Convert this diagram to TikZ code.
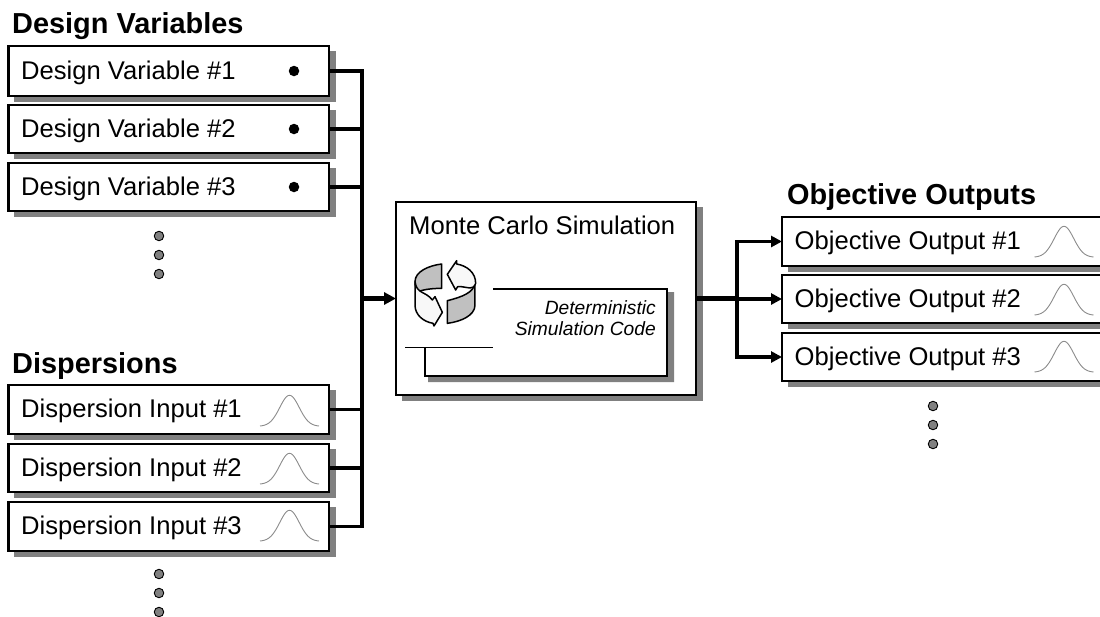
\documentclass[tikz,border=0pt]{standalone}
\usepackage{fontspec}
\setmainfont{Liberation Sans}
\usetikzlibrary{arrows.meta,shadows}
\definecolor{dropgray}{HTML}{808080}
\definecolor{dotgray}{HTML}{808080}
\definecolor{bandgray}{HTML}{C0C0C0}
\definecolor{bandwhite}{HTML}{F8F8F8}
\tikzset{
  shaded box/.style={draw=black,fill=white,line width=2.6pt,rectangle,anchor=north west,inner sep=0pt,outer sep=0pt,
    copy shadow={shadow xshift=6pt,shadow yshift=-5.5pt,fill=dropgray,draw=dropgray,line width=0pt}},
  item/.style={anchor=base west,inner sep=0pt,font=\fontsize{25.6}{28}\selectfont,text=black},
  heading/.style={anchor=base west,inner sep=0pt,font=\fontsize{28.9}{32}\selectfont\bfseries},
  wire/.style={draw=black,line width=3.2pt},
  heavywire/.style={draw=black,line width=4.4pt},
  arrowwire/.style={wire,-{Triangle[length=11pt,width=11pt]}},
  heavyarrow/.style={heavywire,-{Triangle[length=12pt,width=12pt,sep=0pt]}},
  more/.style={circle,draw=black,fill=dotgray,line width=0.9pt,minimum size=9.5pt,inner sep=0pt},
  point/.style={circle,fill=black,minimum size=10.5pt,inner sep=0pt},
  bellcurve/.style={draw=black!45,line width=0.9pt,smooth},
  band/.style={draw=black,line width=1.5pt,line join=round,fill=bandgray},
  sweep/.style={draw=black,line width=1.5pt,line join=round,fill=bandwhite}
}
\newcommand{\bellat}[2]{\draw[bellcurve] plot[domain=-29.5:29.5,samples=45] ({#1+\x},{#2-31*exp(-((\x)*(\x))/190)+0.3});}
\newcommand{\itembox}[6]{%
  \node[shaded box,minimum width={#4-#2},minimum height={#5-#3}] (#1) at (#2,#3) {};
  \node[item] (#1t) at ([xshift=12.5pt,yshift=-8pt]#1.west) {#6};}
\begin{document}
\begin{tikzpicture}[x=1pt,y=-1pt]
\path[use as bounding box,clip] (0,0) rectangle (1100,616);
\fill[white] (0,0) rectangle (1100,616);

% headings
\node[heading] (h1) at (12,33) {Design Variables};
\node[heading] (h2) at (12,373) {Dispersions};
\node[heading] (h3) at (787,204) {Objective Outputs};

% left boxes
\itembox{dv1}{8.5}{46}{329}{96}{Design Variable \#1}
\itembox{dv2}{8.5}{105}{329}{153}{Design Variable \#2}
\itembox{dv3}{8.5}{163}{329}{211}{Design Variable \#3}
\itembox{di1}{8.5}{385}{329}{434}{Dispersion Input \#1}
\itembox{di2}{8.5}{444}{329}{492}{Dispersion Input \#2}
\itembox{di3}{8.5}{502}{329}{551}{Dispersion Input \#3}

% right boxes
\itembox{oo1}{782}{217}{1112}{266}{Objective Output \#1}
\itembox{oo2}{782}{275}{1112}{323}{Objective Output \#2}
\itembox{oo3}{782}{333}{1112}{381}{Objective Output \#3}

% point values
\node[point] (p1) at (294,71) {};
\node[point] (p2) at (294,129) {};
\node[point] (p3) at (294,187) {};

% distributions
\bellat{289.5}{426}
\bellat{289.5}{484}
\bellat{289.5}{541}
\bellat{1064}{257}
\bellat{1064}{315}
\bellat{1064}{372}

% continuation dots
\foreach \n/\px/\py in {a1/159/236,a2/159/255,a3/159/274,s1/159/574,s2/159/593,s3/159/612,c1/933/406,c2/933/425,c3/933/444}
  \node[more] (\n) at (\px,\py) {};

% main box
\node[shaded box,minimum width=300pt,minimum height=193pt] (mc) at (396,202) {};
\node[anchor=base west,inner sep=0pt,font=\fontsize{25.6}{28}\selectfont] (mct) at (409,234) {Monte Carlo Simulation};

% inner frame
\coordinate (fa) at (493,289);
\coordinate (fb) at (667,289);
\coordinate (fc) at (667,376);
\coordinate (fd) at (425,376);
\coordinate (fe) at (425,347);
\coordinate (ff) at (405,347);
\coordinate (fg) at (493,347);
\fill[dropgray] (667,292) -- (674,292) -- (674,382) -- (428,382) -- (428,376) -- (667,376) -- cycle;
\draw[line width=2.6pt,line join=miter] (fa) -- (fb) -- (fc) -- (fd) -- (fe);
\draw[line width=0.7pt,black,dash pattern=on 1.5pt off 0.5pt] (ff) -- (fg);
\node[anchor=base east,inner sep=0pt,align=right,font=\fontsize{19.2}{22}\selectfont\itshape] (det1) at (656,314) {Deterministic};
\node[anchor=base east,inner sep=0pt,align=right,font=\fontsize{19.2}{22}\selectfont\itshape] (det2) at (656,335) {Simulation Code};

% cycle icon
\begin{scope}[shift={(405,255)},x=0.3333pt,y=-0.3333pt]
  \draw[band] (110,27) .. controls (70,32) and (30,50) .. (30,80)
     .. controls (30,92) and (33,100) .. (40,110)
     .. controls (55,103) and (85,100) .. (110,100) -- cycle;
  \draw[sweep] (30,80) -- (30,150) .. controls (30,180) and (55,200) .. (84,205) -- (87,213) -- (112,172) -- (90,125) -- (82,135)
     .. controls (62,108) and (35,118) .. (30,80) -- cycle;
  \draw[band] (127,205) .. controls (167,200) and (210,182) .. (210,150)
     -- (210,85) .. controls (205,112) and (175,125) .. (127,137) -- cycle;
  \draw[sweep] (212,85) .. controls (212,52) and (185,32) .. (155,27) -- (155,17) -- (127,58) -- (152,105) -- (158,95)
     .. controls (178,92) and (205,110) .. (212,85) -- cycle;
\end{scope}

% wires
\coordinate (busx) at (362,0);
\coordinate (b1) at (dv1.east -| busx);
\coordinate (b2) at (dv2.east -| busx);
\coordinate (b3) at (dv3.east -| busx);
\coordinate (b4) at (di1.east -| busx);
\coordinate (b5) at (di2.east -| busx);
\coordinate (b6) at (di3.east -| busx);
\coordinate (bm) at (mc.west -| busx);
\draw[wire,line cap=rect] (b1) -- (b6);
\draw[wire] (dv1.east) -- (b1);
\draw[wire] (dv2.east) -- (b2);
\draw[wire] (dv3.east) -- (b3);
\draw[wire] (di1.east) -- (b4);
\draw[wire] (di2.east) -- (b5);
\draw[wire] (di3.east) -- (b6);
\draw[heavyarrow] (bm) -- (mc.west);
\coordinate (busr) at (737,0);
\coordinate (om) at (mc.east -| busr);
\coordinate (o1) at (oo1.west -| busr);
\coordinate (o2) at (oo2.west -| busr);
\coordinate (o3) at (oo3.west -| busr);
\draw[heavywire] (mc.east) -- (om);
\draw[wire,line cap=rect] (o1) -- (o3);
\draw[arrowwire] (o1) -- (oo1.west);
\draw[arrowwire] (o2) -- (oo2.west);
\draw[arrowwire] (o3) -- (oo3.west);
\end{tikzpicture}
\end{document}
